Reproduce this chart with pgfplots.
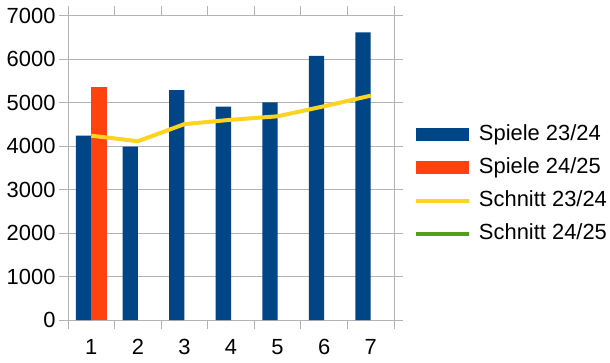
\documentclass[border=0pt]{standalone}
\usepackage{pgfplots}
\pgfplotsset{compat=1.18}
\usepackage{fontspec}
\setmainfont{Liberation Sans}
\definecolor{cBlue}{HTML}{004586}
\definecolor{cOrange}{HTML}{FF420E}
\definecolor{cYellow}{HTML}{FFD320}
\definecolor{cGreen}{HTML}{579D1C}
\definecolor{cGrid}{HTML}{B3B3B3}
\begin{document}
\begin{tikzpicture}[x=1bp,y=1bp]
\useasboundingbox (0,0) rectangle (610,362);
\begin{axis}[
  at={(68bp,42bp)}, anchor=south west,
  scale only axis, width=326bp, height=304.5bp,
  font=\fontsize{22}{26}\selectfont,
  /pgf/number format/assume math mode=true,
  xmin=0.5, xmax=7.5, ymin=0, ymax=7000,
  xtick={0.5,1.5,...,7.5}, xticklabels={},
  extra x ticks={1,2,3,4,5,6,7},
  extra x tick labels={1,2,3,4,5,6,7},
  extra x tick style={major tick length=0pt, grid=none},
  xticklabel style={yshift=-16bp},
  ytick={0,1000,...,7000},
  yticklabel style={/pgf/number format/1000 sep={}},
  scaled y ticks=false,
  ymajorgrids, grid style={draw=cGrid, line width=0.8bp},
  axis line style={draw=cGrid, line width=0.8bp},
  every tick/.style={draw=cGrid, line width=0.8bp},
  tick align=outside, major tick length=9bp,
  legend style={at={(axis description cs:1.0613,0.445)}, anchor=west,
    draw=none, fill=none, inner sep=0pt, outer sep=0pt,
    column sep=8bp, row sep=12bp,
    nodes={inner sep=0pt, text height=16bp, text depth=5bp}},
  legend cell align=left,
]
\addplot[ybar, bar width=15.3bp, bar shift=-7.65bp, fill=cBlue, draw=none,
  legend image code/.code={\fill[cBlue] (0bp,-6.5bp) rectangle (53bp,6.5bp);}]
  coordinates {(1,4237) (2,3984) (3,5287) (4,4904) (5,5004) (6,6069) (7,6614)};
\addlegendentry{Spiele 23/24}
\addplot[ybar, bar width=15.3bp, bar shift=7.65bp, fill=cOrange, draw=none,
  legend image code/.code={\fill[cOrange] (0bp,-6.5bp) rectangle (53bp,6.5bp);}]
  coordinates {(1,5349)};
\addlegendentry{Spiele 24/25}
\addplot[cYellow, line width=4bp, no markers, line join=round,
  legend image code/.code={\draw[cYellow, line width=4bp] (0bp,0bp) -- (53bp,0bp);}]
  coordinates {(1,4237) (2,4110) (3,4503) (4,4603) (5,4683) (6,4914) (7,5157)};
\addlegendentry{Schnitt 23/24}
\addlegendimage{cGreen, line width=4bp, legend image code/.code={\draw[cGreen, line width=4bp] (0bp,0bp) -- (53bp,0bp);}}
\addlegendentry{Schnitt 24/25}
\end{axis}
\end{tikzpicture}
\end{document}
